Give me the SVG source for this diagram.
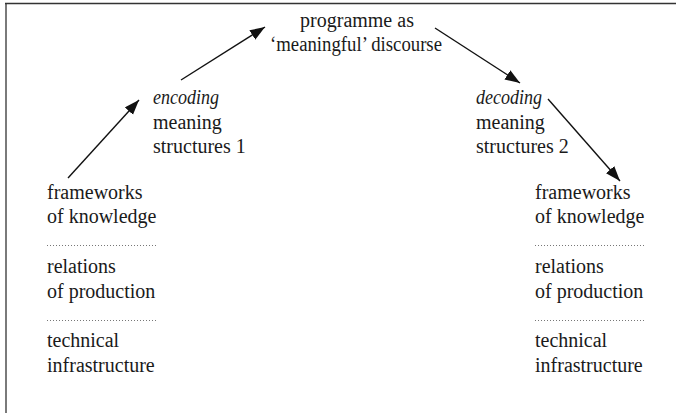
<svg xmlns="http://www.w3.org/2000/svg" width="676" height="413" viewBox="0 0 676 413">
<defs>
<style>
text{font-size:20px;fill:#1a1a1a}
.it{font-style:italic}
.mid{text-anchor:middle}
.dots{stroke:#777;stroke-width:1;stroke-dasharray:1 2;fill:none}
.arr{stroke:#111;stroke-width:1.4;fill:none;marker-end:url(#ah)}
</style>
<marker id="ah" markerUnits="userSpaceOnUse" markerWidth="16" markerHeight="12" refX="15" refY="5.5" orient="auto">
<path d="M0,0 L15,5.5 L0,11 Z" fill="#111"/>
</marker>
</defs>
<rect width="676" height="413" fill="#fff"/>
<g id="frame">
<line x1="6" y1="3" x2="6" y2="413" stroke="#7a7a7a" stroke-width="2"/>
<line x1="5" y1="3.5" x2="676" y2="3.5" stroke="#333" stroke-width="1.5"/>
</g>
<g font-family="Liberation Serif, Times New Roman, DejaVu Serif, serif">
<g id="programme">
<text class="mid" x="357" y="27">programme as</text>
<text class="mid" x="356" y="51" textLength="172" lengthAdjust="spacingAndGlyphs">‘meaningful’ discourse</text>
</g>
<g id="encoding">
<text class="it" x="153" y="104" textLength="66" lengthAdjust="spacingAndGlyphs">encoding</text>
<text x="153" y="129">meaning</text>
<text x="153" y="153">structures 1</text>
</g>
<g id="decoding">
<text class="it" x="476" y="104" textLength="66" lengthAdjust="spacingAndGlyphs">decoding</text>
<text x="476" y="129">meaning</text>
<text x="476" y="153">structures 2</text>
</g>
<g id="left-stack">
<text x="47" y="199">frameworks</text>
<text x="47" y="223">of knowledge</text>
<line class="dots" x1="47" y1="245.5" x2="156" y2="245.5"/>
<text x="47" y="273">relations</text>
<text x="47" y="298">of production</text>
<line class="dots" x1="47" y1="320.5" x2="156" y2="320.5"/>
<text x="47" y="347">technical</text>
<text x="47" y="372">infrastructure</text>
</g>
<g id="right-stack">
<text x="535" y="199">frameworks</text>
<text x="535" y="223">of knowledge</text>
<line class="dots" x1="535" y1="245.5" x2="644" y2="245.5"/>
<text x="535" y="273">relations</text>
<text x="535" y="298">of production</text>
<line class="dots" x1="535" y1="320.5" x2="644" y2="320.5"/>
<text x="535" y="347">technical</text>
<text x="535" y="372">infrastructure</text>
</g>
</g>
<g id="connectors">
<line class="arr" x1="68" y1="178" x2="139" y2="100"/>
<line class="arr" x1="181" y1="80" x2="265" y2="27"/>
<line class="arr" x1="435" y1="28" x2="520" y2="83"/>
<line class="arr" x1="548" y1="99" x2="620" y2="181"/>
</g>
</svg>
